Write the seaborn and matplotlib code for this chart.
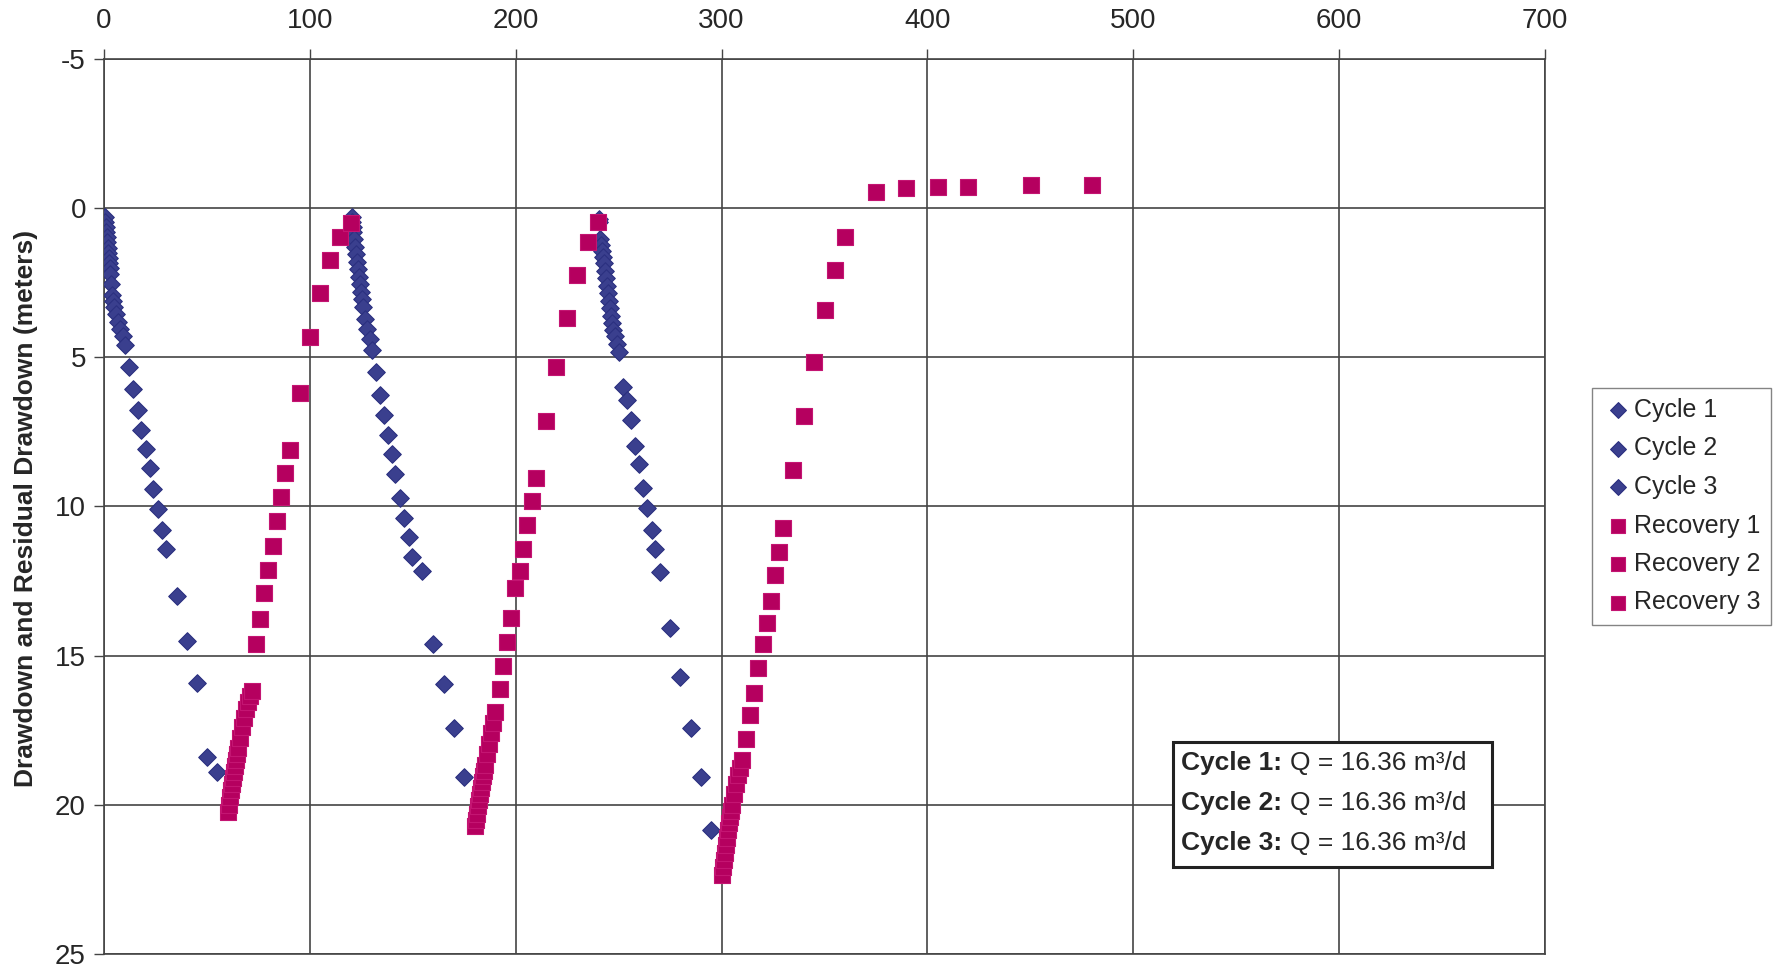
import matplotlib
matplotlib.use("Agg")
import matplotlib.pyplot as plt
from matplotlib.patches import Rectangle
import pandas as pd
import seaborn as sns

# time (min) and drawdown (m)
cycle1_t = [0.25, 0.5, 0.75, 1.0, 1.25, 1.5, 1.75, 2.0, 2.25, 2.5, 2.75, 3.0, 3.5, 4.0, 4.5, 5.0, 6.0, 7.0, 8.0, 9.0, 10.0,
            12.3, 14.2, 16.3, 18.0, 20.3, 22.4, 24.0, 26.4, 28.1, 30.2, 35.3, 40.2, 45.1, 50.0, 54.8]
cycle1_s = [0.30, 0.45, 0.62, 0.80, 0.98, 1.15, 1.32, 1.50, 1.68, 1.85, 2.02, 2.20, 2.55, 2.90, 3.10, 3.30, 3.55, 3.80, 4.05, 4.30, 4.60,
            5.31, 6.06, 6.76, 7.44, 8.07, 8.72, 9.40, 10.09, 10.79, 11.42, 13.0, 14.5, 15.9, 18.4, 18.9]

cycle2_t = [120.25, 120.5, 120.75, 121.0, 121.5, 122.0, 122.5, 123.0, 123.5, 124.0, 124.5, 125.0, 125.5, 126.0, 127.0, 128.0, 129.0, 130.0,
            131.9, 133.9, 135.9, 138.0, 139.9, 141.6, 144.0, 145.6, 148.1, 149.7, 154.6, 159.8, 165.1, 170.0, 174.8]
cycle2_s = [0.30, 0.45, 0.62, 0.80, 1.05, 1.30, 1.55, 1.80, 2.05, 2.30, 2.55, 2.80, 3.05, 3.30, 3.70, 4.05, 4.40, 4.76,
            5.48, 6.26, 6.92, 7.59, 8.23, 8.92, 9.70, 10.39, 11.03, 11.68, 12.17, 14.61, 15.96, 17.42, 19.06]

cycle3_t = [240.25, 240.5, 241.0, 241.5, 242.0, 242.5, 243.0, 243.5, 244.0, 244.5, 245.0, 245.5, 246.0, 246.5, 247.0, 247.5, 248.0, 249.0, 250.0,
            251.9, 254.0, 256.0, 258.1, 260.0, 262.0, 264.0, 266.0, 267.8, 270.1, 275.1, 280.0, 285.2, 290.0, 294.9]
cycle3_s = [0.35, 0.45, 1.05, 1.25, 1.45, 1.65, 1.85, 2.10, 2.35, 2.60, 2.85, 3.10, 3.35, 3.60, 3.85, 4.10, 4.30, 4.55, 4.81,
            5.98, 6.42, 7.09, 7.96, 8.56, 9.37, 10.06, 10.78, 11.44, 12.18, 14.06, 15.72, 17.42, 19.07, 20.84]

recov1_t = [60.0, 60.5, 61.0, 61.5, 62.0, 62.5, 63.0, 63.5, 64.0, 64.5, 65.0, 66.0, 67.0, 68.0, 69.0, 70.0, 71.0, 72.0,
            74.0, 75.9, 77.9, 79.9, 81.9, 84.0, 85.9, 87.7, 90.2, 95.0, 99.9, 104.8, 109.6, 114.8, 120.0]
recov1_s = [20.25, 20.0, 19.75, 19.5, 19.3, 19.1, 18.9, 18.7, 18.5, 18.3, 18.1, 17.75, 17.4, 17.1, 16.8, 16.55, 16.35, 16.2,
            14.6, 13.76, 12.9, 12.12, 11.31, 10.48, 9.67, 8.87, 8.09, 6.18, 4.31, 2.83, 1.73, 0.98, 0.5]

recov2_t = [180.0, 180.5, 181.0, 181.5, 182.0, 182.5, 183.0, 183.5, 184.0, 184.5, 185.0, 186.0, 187.0, 188.0, 189.0, 190.0,
            192.2, 193.8, 195.6, 197.9, 199.7, 201.9, 203.7, 205.6, 207.8, 210.0, 214.9, 219.8, 224.8, 229.6, 234.9, 239.8]
recov2_s = [20.7, 20.5, 20.3, 20.05, 19.85, 19.65, 19.45, 19.25, 19.05, 18.85, 18.65, 18.3, 17.95, 17.6, 17.25, 16.9,
            16.12, 15.33, 14.53, 13.73, 12.72, 12.17, 11.42, 10.62, 9.81, 9.03, 7.14, 5.33, 3.67, 2.23, 1.14, 0.48]

recov3_t = [300.0, 300.5, 301.0, 301.5, 302.0, 302.5, 303.0, 303.5, 304.0, 304.5, 305.0, 306.0, 307.0, 308.0, 309.0, 310.0,
            311.9, 314.0, 315.9, 317.9, 320.0, 321.9, 324.0, 326.0, 327.8, 329.8, 334.6, 339.8, 344.7, 350.0, 354.9, 359.8,
            374.9, 389.8, 404.9, 419.8, 450.1, 479.8]
recov3_s = [22.35, 22.1, 21.85, 21.6, 21.35, 21.1, 20.85, 20.6, 20.4, 20.2, 20.0, 19.65, 19.3, 19.0, 18.75, 18.5,
            17.79, 17.0, 16.26, 15.42, 14.62, 13.9, 13.17, 12.28, 11.53, 10.73, 8.76, 6.98, 5.17, 3.42, 2.06, 0.98,
            -0.54, -0.67, -0.72, -0.72, -0.77, -0.78]

annot_lines = ["Cycle 1:", "Cycle 2:", "Cycle 3:"]
rate_text = "Q = 16.36 m³/d"

series = [
    ("Cycle 1", cycle1_t, cycle1_s),
    ("Cycle 2", cycle2_t, cycle2_s),
    ("Cycle 3", cycle3_t, cycle3_s),
    ("Recovery 1", recov1_t, recov1_s),
    ("Recovery 2", recov2_t, recov2_s),
    ("Recovery 3", recov3_t, recov3_s),
]

sns.set_style("white")
plt.rcParams["font.family"] = ["Liberation Sans", "DejaVu Sans"]
plt.rcParams["axes.unicode_minus"] = False

W, H = 1776, 968
fig = plt.figure(figsize=(W / 100, H / 100), dpi=100)
ax = fig.add_axes([104 / W, 14 / H, (1545 - 104) / W, (954 - 59) / H])

for name, t, s in series:
    df = pd.DataFrame({"time": t, "drawdown": s})
    if name.startswith("Cycle"):
        sns.scatterplot(data=df, x="time", y="drawdown", ax=ax, marker="D", s=80,
                        color="#3a3f8e", edgecolor="#2b3080", linewidth=0.8, label=name, zorder=3)
    else:
        sns.scatterplot(data=df, x="time", y="drawdown", ax=ax, marker="s", s=140,
                        color="#b5005f", edgecolor="#c41572", linewidth=0.8, label=name, zorder=4)

ax.set_xlim(0, 700)
ax.set_ylim(25, -5)
ax.set_xticks(range(0, 701, 100))
ax.set_yticks(range(-5, 26, 5))
ax.xaxis.tick_top()
ax.tick_params(axis="both", labelsize=20, length=7, width=1, color="#444", direction="out")
ax.tick_params(axis="x", top=True, pad=11)
ax.tick_params(axis="y", left=True, pad=6)
ax.grid(True, color="#444", linewidth=1.2)
ax.set_axisbelow(True)
for sp in ax.spines.values():
    sp.set_color("#444")
    sp.set_linewidth(1.2)
ax.set_xlabel("")
ax.set_ylabel("")

fig.text(26 / W, 0.475, "Drawdown and Residual Drawdown (meters)", rotation=90,
         ha="center", va="center", fontsize=19, fontweight="bold")

handles, labels = ax.get_legend_handles_labels()
ax.get_legend().remove()
leg = fig.legend(handles, labels, loc="upper left", bbox_to_anchor=(1592 / W, 1 - 388 / H),
                 fontsize=18, frameon=True, fancybox=False, edgecolor="#666",
                 handletextpad=0.0, handlelength=1.3, labelspacing=0.58, borderpad=0.4,
                 markerscale=0.9, borderaxespad=0)
leg.get_frame().set_linewidth(1.0)

# pumping-rate note
fig.add_artist(Rectangle((1173 / W, 1 - 867 / H), (1492 - 1173) / W, (867 - 742) / H,
                         transform=fig.transFigure, facecolor="white", edgecolor="#222",
                         linewidth=2.2, zorder=5))
for i, lab in enumerate(annot_lines):
    yy = 1 - (763 + 40 * i) / H
    fig.text(1181 / W, yy, lab, ha="left", va="center", fontsize=19, fontweight="bold", zorder=6)
    fig.text(1290 / W, yy, rate_text, ha="left", va="center", fontsize=19, zorder=6)

fig.savefig("out.png", dpi=100)
